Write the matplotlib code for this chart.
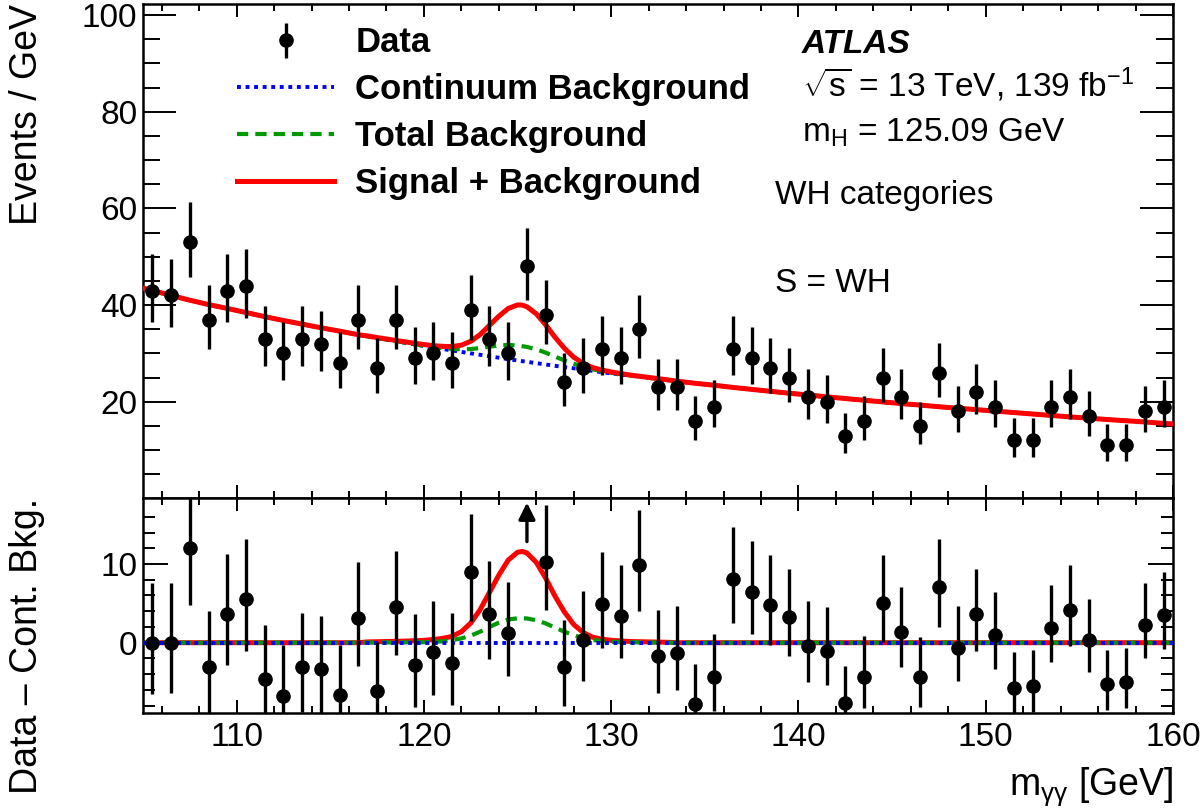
import matplotlib.pyplot as plt
import numpy as np

plt.rcParams['font.family'] = ['Liberation Sans', 'DejaVu Sans']
plt.rcParams['mathtext.fontset'] = 'custom'
plt.rcParams['mathtext.rm'] = 'Liberation Sans'
plt.rcParams['mathtext.it'] = 'Liberation Sans:italic'
plt.rcParams['mathtext.bf'] = 'Liberation Sans:bold'

# bin centres (1 GeV bins) and observed events
mass = np.arange(105.5, 160.0, 1.0)
counts = np.array([43, 42, 53, 37, 43, 44, 33, 30, 33, 32,
                   28, 37, 27, 37, 29, 30, 28, 39, 33, 30,
                   48, 38, 24, 27, 31, 29, 35, 23, 23, 16,
                   19, 31, 29, 27, 25, 21, 20, 13, 16, 25,
                   21, 15, 26, 18, 22, 19, 12, 12, 19, 21,
                   17, 11, 11, 18, 19])

# continuum background read at the bin centres
cont_bins = np.array([43.0, 42.0, 41.0, 40.1, 39.3, 38.45, 37.6, 36.8, 36.05, 35.3,
                      34.6, 33.85, 33.15, 32.5, 31.85, 31.2, 30.6, 30.0, 29.4, 28.8,
                      28.25, 27.7, 27.15, 26.65, 26.1, 25.6, 25.15, 24.7, 24.25, 23.8,
                      23.4, 22.95, 22.55, 22.15, 21.75, 21.4, 21.0, 20.65, 20.3, 19.95,
                      19.6, 19.3, 18.95, 18.65, 18.35, 18.05, 17.75, 17.45, 17.15, 16.85,
                      16.6, 16.3, 16.05, 15.8, 15.5])
cont_at_105 = 43.5
cont_at_160 = 15.4

# peak region: curves above the continuum
peak_mass = np.array([117.0, 118.0, 119.0, 120.0, 120.5, 121.0, 121.5, 122.0, 122.5, 123.0,
                      123.5, 124.0, 124.5, 125.0, 125.25, 125.5, 126.0, 126.5, 127.0, 127.5,
                      128.0, 128.5, 129.0, 129.5, 130.0, 131.0, 132.0, 133.0])
peak_sb = np.array([0.1, 0.15, 0.2, 0.3, 0.4, 0.55, 0.8, 1.4, 2.5, 4.2,
                    6.4, 8.6, 10.5, 11.5, 11.6, 11.4, 10.2, 8.2, 5.9, 3.9,
                    2.3, 1.3, 0.7, 0.45, 0.3, 0.15, 0.1, 0.05])
peak_hbkg = np.array([0.02, 0.03, 0.04, 0.06, 0.1, 0.18, 0.32, 0.55, 0.9, 1.4,
                      2.0, 2.55, 2.95, 3.1, 3.1, 3.08, 2.85, 2.45, 1.9, 1.4,
                      0.95, 0.6, 0.35, 0.2, 0.12, 0.06, 0.03, 0.01])


def poisson_err(n):
    up = np.sqrt(n + 0.75) + 1.0
    lo = n - n * (1.0 - 1.0 / (9.0 * n) - 1.0 / (3.0 * np.sqrt(n))) ** 3
    return lo, up


err_lo, err_up = poisson_err(counts.astype(float))

curve_mass = np.concatenate(([105.0], mass, [160.0]))
cont_curve = np.concatenate(([cont_at_105], cont_bins, [cont_at_160]))
x_line = np.union1d(curve_mass, peak_mass)
cont_line = np.interp(x_line, curve_mass, cont_curve)
sb_ex = np.interp(x_line, peak_mass, peak_sb, left=0, right=0)
hb_ex = np.interp(x_line, peak_mass, peak_hbkg, left=0, right=0)

resid = counts - cont_bins

BLUE = (0, 0, 1)
GREEN = (0, 0.6, 0)
RED = (1, 0, 0)
blue_ls = (0, (1, 1.2))
green_ls = (0, (2.7, 1.7))

fig = plt.figure(figsize=(12.03, 8.10), dpi=100)
ax1 = fig.add_axes([0.1189, 0.3848, 0.8562, 0.6102])
ax2 = fig.add_axes([0.1189, 0.1201, 0.8562, 0.2647])

# top panel
ax1.plot(x_line, cont_line, color=BLUE, lw=2.8, ls=blue_ls, label='Continuum Background', zorder=2)
ax1.plot(x_line, cont_line + hb_ex, color=GREEN, lw=3, ls=green_ls, label='Total Background', zorder=3)
ax1.plot(x_line, cont_line + sb_ex, color=RED, lw=3.6, label='Signal + Background', zorder=4)
data = ax1.errorbar(mass, counts, yerr=[err_lo, err_up], fmt='o', color='black',
                    ms=9.5, elinewidth=2.4, capsize=0, label='Data', zorder=5)

# bottom panel
ymax2 = 18.35
ax2.plot(x_line, sb_ex, color=RED, lw=3.6, zorder=2)
ax2.plot(x_line, hb_ex, color=GREEN, lw=3, ls=green_ls, zorder=3)
ax2.plot(x_line, np.zeros_like(x_line), color=BLUE, lw=2.8, ls=blue_ls, zorder=4)
inside = resid < ymax2
ax2.errorbar(mass[inside], resid[inside], yerr=[err_lo[inside], err_up[inside]], fmt='o',
             color='black', ms=9.5, elinewidth=2.4, capsize=0, zorder=5)
for x, r, lo in zip(mass[~inside], resid[~inside], err_lo[~inside]):
    ax2.annotate('', xy=(x, 17.8), xytext=(x, r - lo),
                 arrowprops=dict(arrowstyle='-|>', color='black', lw=2.4,
                                 mutation_scale=25, shrinkA=0, shrinkB=0))

for ax in (ax1, ax2):
    ax.set_xlim(105, 160)
    ax.set_xticks(np.arange(110, 161, 10))
    ax.set_xticks(np.arange(106, 160, 2), minor=True)
    ax.tick_params(which='both', direction='in', top=True, right=True, width=1.4,
                   labelsize=24, colors='black')
    ax.tick_params(axis='x', which='major', length=9.5, pad=7)
    ax.tick_params(axis='x', which='minor', length=5)
    ax.tick_params(axis='y', pad=4)
    for sp in ax.spines.values():
        sp.set_linewidth(1.8)

ax1.set_ylim(0, 102.3)
ax1.set_yticks([20, 40, 60, 80, 100])
ax1.set_yticks(np.arange(5, 101, 5), minor=True)
ax1.tick_params(axis='y', which='major', length=23.8)
ax1.tick_params(axis='y', which='minor', length=12)
ax1.tick_params(axis='x', labelbottom=False)

ax2.set_ylim(-8.9, ymax2)
ax2.set_yticks([0, 10])
ax2.set_yticks(np.arange(-8, 18, 2), minor=True)
ax2.tick_params(axis='y', which='major', length=18)
ax2.tick_params(axis='y', which='minor', length=8.6)

ax1.set_ylabel('Events / GeV', fontsize=27, loc='top')
ax1.yaxis.set_label_coords(-0.095, 1.0)
ax2.set_ylabel('Data \u2013 Cont. Bkg.', fontsize=27, loc='top')
ax2.yaxis.set_label_coords(-0.095, 1.0)
ax2.set_xlabel(r'm$_{\mathrm{γγ}}$ [GeV]', fontsize=27, loc='right')
ax2.xaxis.set_label_coords(1.0, -0.244)

handles = [data, ax1.get_lines()[0], ax1.get_lines()[1], ax1.get_lines()[2]]
leg = ax1.legend(handles, ['Data', 'Continuum Background', 'Total Background', 'Signal + Background'],
                 loc='upper left', bbox_to_anchor=(0.0913, 0.955), frameon=False,
                 prop={'size': 25, 'weight': 'bold'}, handlelength=2.8, handletextpad=0.6,
                 labelspacing=0.4, borderpad=0, borderaxespad=0)

ax1.text(0.6395, 0.900, 'ATLAS', transform=ax1.transAxes, fontsize=24,
         fontweight='bold', fontstyle='italic', va='baseline')
ax1.text(0.6395, 0.8125, r'$\sqrt{\mathrm{s}}$ = 13 TeV, 139 fb$^{\mathrm{-1}}$', transform=ax1.transAxes,
         fontsize=24, va='baseline')
ax1.text(0.6395, 0.7214, r'm$_{\mathrm{H}}$ = 125.09 GeV', transform=ax1.transAxes,
         fontsize=24, va='baseline')
ax1.text(0.6136, 0.5954, 'WH categories', transform=ax1.transAxes, fontsize=24, va='baseline')
ax1.text(0.6136, 0.418, 'S = WH', transform=ax1.transAxes, fontsize=24, va='baseline')

fig.savefig('out.png', dpi=100)
